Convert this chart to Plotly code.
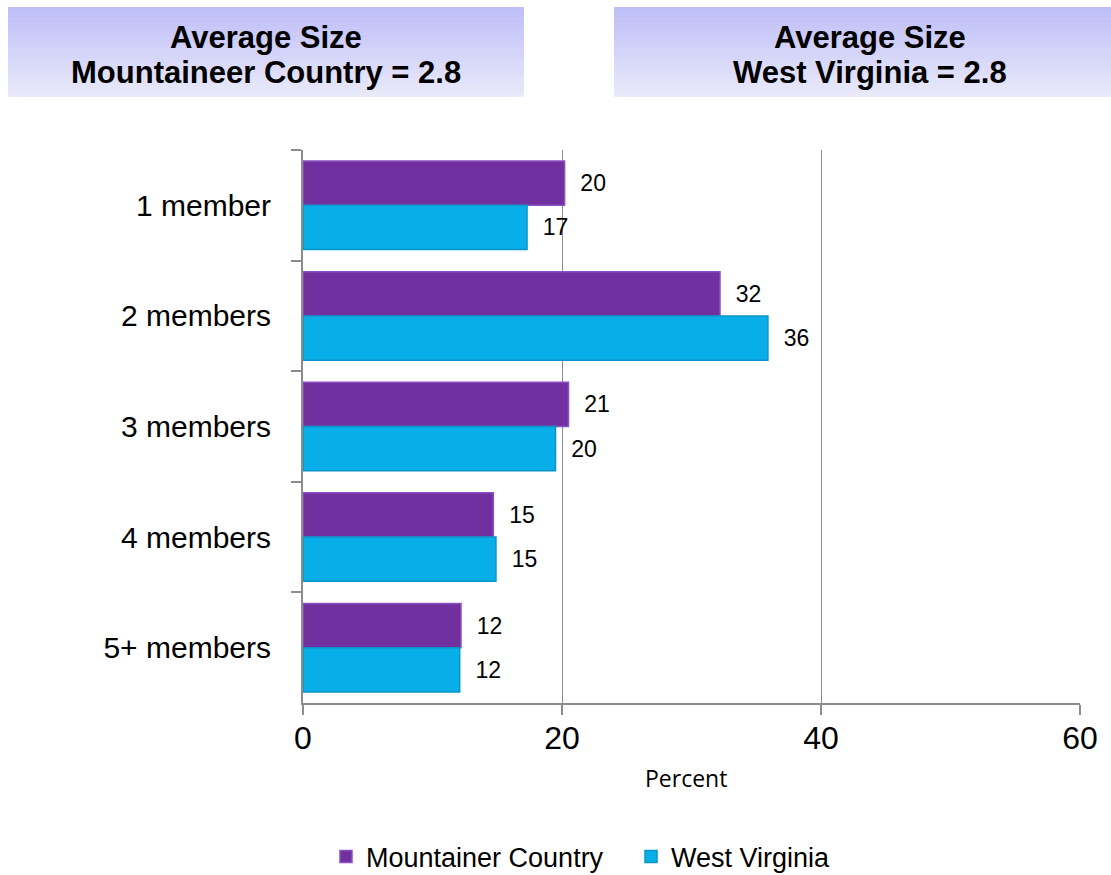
import plotly.graph_objects as go

categories = ["1 member", "2 members", "3 members", "4 members", "5+ members"]
mountaineer = [20.2, 32.2, 20.5, 14.7, 12.2]
west_virginia = [17.3, 35.9, 19.5, 14.9, 12.1]
series_names = ["Mountainer Country", "West Virginia"]
x_ticks = [0, 20, 40, 60]
header_left = ["Average Size", "Mountaineer Country = 2.8"]
header_right = ["Average Size", "West Virginia = 2.8"]

W, H = 1111, 875
L, R, T, B = 303, 31, 150, 172
pw, ph = W - L - R, H - T - B

def px(x):
    return (x - L) / pw

def py(y):
    return (H - B - y) / ph

FONT = "Liberation Sans, Arial, sans-serif"

fig = go.Figure()
fig.add_trace(go.Bar(
    y=categories, x=mountaineer, orientation="h", name=series_names[0],
    marker=dict(color="#7030A0", line=dict(color="#8A4FC0", width=1.5)),
    texttemplate="\u00a0\u00a0%{x:.0f}", textposition="outside",
    textfont=dict(family=FONT, size=23, color="#000000"), cliponaxis=False,
))
fig.add_trace(go.Bar(
    y=categories, x=west_virginia, orientation="h", name=series_names[1],
    marker=dict(color="#08AEE8", line=dict(color="#0A95C8", width=1.5)),
    texttemplate="\u00a0\u00a0%{x:.0f}", textposition="outside",
    textfont=dict(family=FONT, size=23, color="#000000"), cliponaxis=False,
))

shapes = []
# gradient header boxes
top_c = (190, 190, 248)
bot_c = (233, 233, 250)
n = 24
y0p, y1p = 7, 97
for (x0p, x1p) in [(8, 524), (614, 1111)]:
    for i in range(n):
        t = i / (n - 1)
        c = tuple(int(round(top_c[k] + (bot_c[k] - top_c[k]) * t)) for k in range(3))
        ya = y0p + (y1p - y0p) * i / n
        yb = y0p + (y1p - y0p) * (i + 1) / n + 0.6
        shapes.append(dict(type="rect", xref="paper", yref="paper",
                           x0=px(x0p), x1=px(x1p), y0=py(ya), y1=py(min(yb, y1p)),
                           fillcolor="rgb(%d,%d,%d)" % c, line=dict(width=0),
                           layer="below"))

annotations = []
for lines, cx in [(header_left, 266), (header_right, 870)]:
    for txt, cy in zip(lines, [37, 72]):
        annotations.append(dict(text="<b>%s</b>" % txt, xref="paper", yref="paper",
                                x=px(cx), y=py(cy), showarrow=False,
                                xanchor="center", yanchor="middle",
                                font=dict(family=FONT, size=31, color="#000000")))
annotations.append(dict(text="Percent", xref="paper", yref="paper",
                        x=px(686), y=py(778), showarrow=False,
                        xanchor="center", yanchor="middle",
                        font=dict(family="Open Sans, sans-serif", size=23, color="#000000")))

fig.update_layout(
    width=W, height=H,
    margin=dict(l=L, r=R, t=T, b=B, pad=0, autoexpand=False),
    paper_bgcolor="white", plot_bgcolor="white",
    barmode="group", bargap=0.2, bargroupgap=0,
    shapes=shapes, annotations=annotations,
    showlegend=True,
    legend=dict(orientation="h", xref="container", yref="container",
                x=326 / W, y=1 - 857 / H, xanchor="left", yanchor="middle",
                font=dict(family=FONT, size=27, color="#000000"),
                itemwidth=30, tracegroupgap=0, entrywidth=260),
    xaxis=dict(range=[0, 60], tickvals=x_ticks, ticktext=[str(v) for v in x_ticks],
               showgrid=True, gridcolor="#8C8C8C", gridwidth=1.3,
               zeroline=False, showline=True, linecolor="#8C8C8C", linewidth=2,
               ticks="outside", ticklen=10, tickcolor="#8C8C8C", tickwidth=2,
               tickfont=dict(family=FONT, size=32, color="#000000"),
               ticklabelstandoff=-4, fixedrange=True),
    yaxis=dict(autorange="reversed", type="category",
               showline=True, linecolor="#8C8C8C", linewidth=2,
               ticks="outside", ticklen=10, tickcolor="#8C8C8C", tickwidth=2,
               tickson="boundaries", showgrid=False,
               tickfont=dict(family=FONT, size=30, color="#000000"),
               ticklabelstandoff=24, fixedrange=True),
)

fig.write_html("out.html", config={"displayModeBar": False},
               post_script="document.body.style.margin='0';document.body.style.overflow='hidden';")
